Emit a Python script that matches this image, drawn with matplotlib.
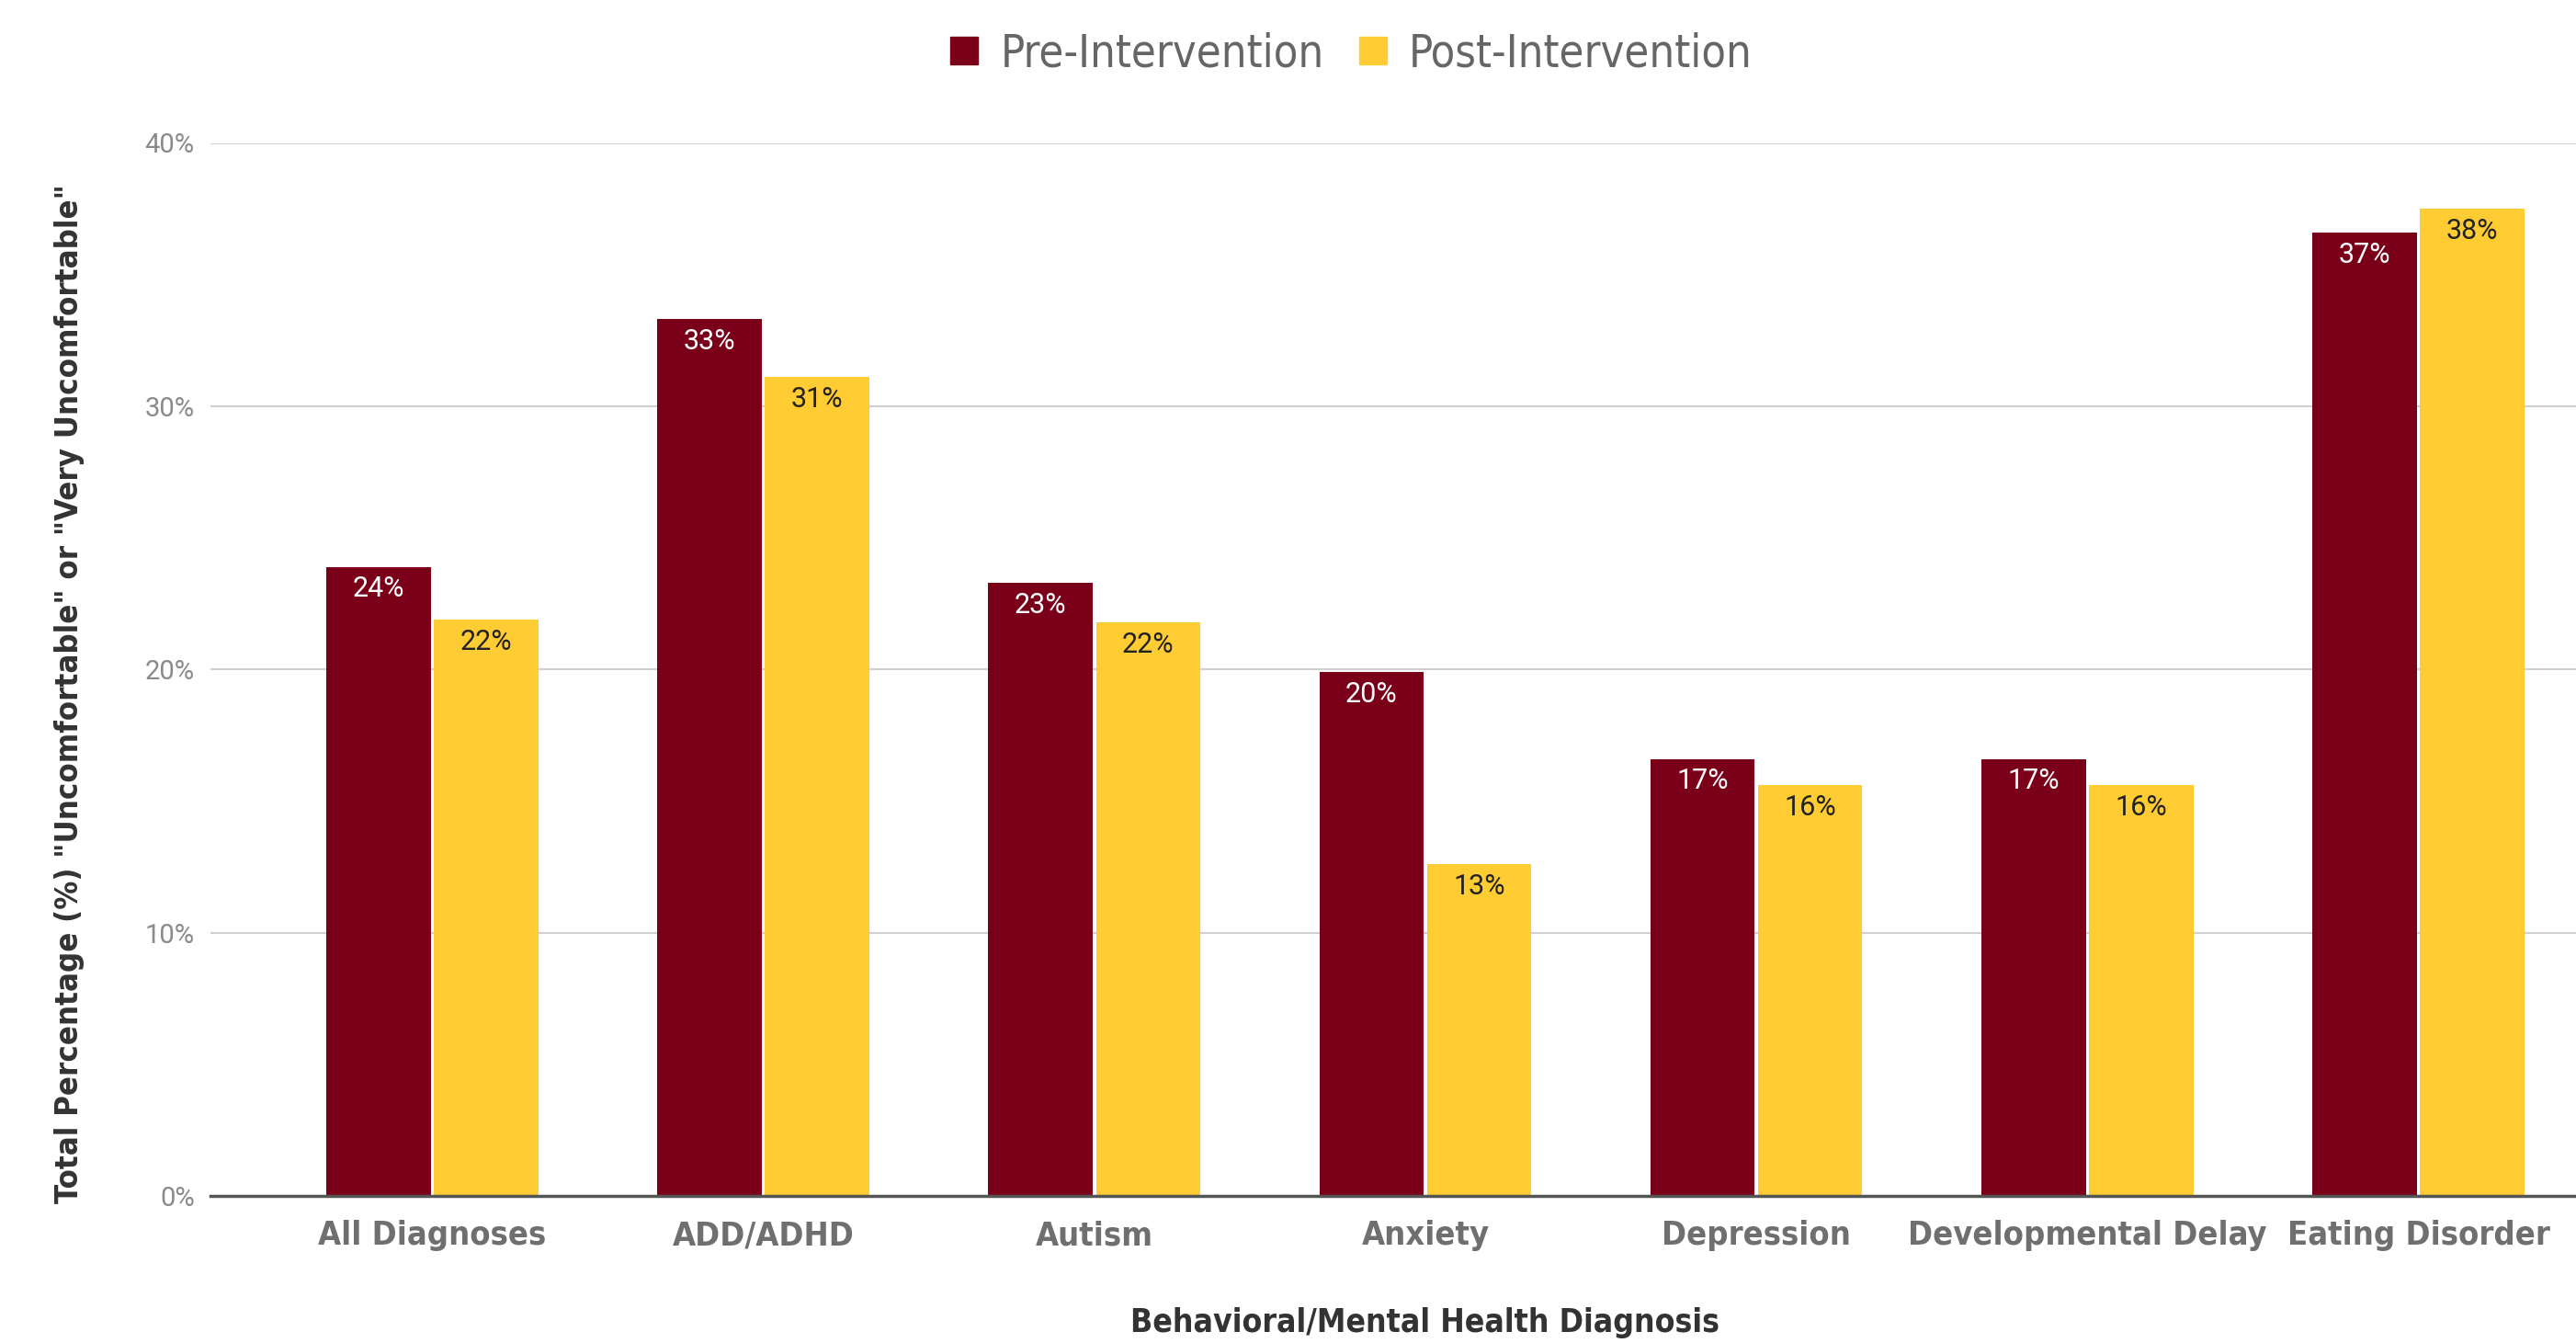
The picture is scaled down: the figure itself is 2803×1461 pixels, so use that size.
import matplotlib
matplotlib.use("Agg")
import matplotlib.pyplot as plt
import numpy as np
from matplotlib.lines import Line2D

# data
categories = ["All Diagnoses", "ADD/ADHD", "Autism", "Anxiety",
              "Depression", "Developmental Delay", "Eating Disorder"]
pre_values = [23.9, 33.3, 23.3, 19.9, 16.6, 16.6, 36.6]
post_values = [21.9, 31.1, 21.8, 12.6, 15.6, 15.6, 37.5]
y_ticks = [0, 10, 20, 30, 40]

MAROON = "#7A0019"
GOLD = "#FFCC33"
REG = ["Roboto", "DejaVu Sans"]

fig = plt.figure(figsize=(28.03, 14.61), dpi=100)
ax = fig.add_axes([229 / 2803, 1 - 1301 / 1461, 1 - 229 / 2803, (1301 - 155.5) / 1461])

x = np.arange(len(categories))
w = 0.315
off = 0.1625
bars_pre = ax.bar(x - off, pre_values, w, color=MAROON, zorder=3)
bars_post = ax.bar(x + off, post_values, w, color=GOLD, zorder=3)

for bars, vals, col in [(bars_pre, pre_values, "white"), (bars_post, post_values, "#222222")]:
    for b, v in zip(bars, vals):
        ax.annotate(f"{v:.0f}%", (b.get_x() + b.get_width() / 2, v),
                    xytext=(0, -17.5), textcoords="offset points",
                    ha="center", va="center", fontsize=22, color=col,
                    family=REG, zorder=4)

ax.set_xlim(-0.67, 6.476)
ax.set_ylim(0, 40)
ax.set_yticks(y_ticks)
ax.set_yticklabels([f"{t}%" for t in y_ticks], family=REG, fontsize=21, color="#8a8a8a")
ax.set_xticks(x)
ax.set_xticklabels(categories, family="DejaVu Sans", fontstretch="condensed",
                   fontweight="bold", fontsize=26, color="#6f6f6f")
ax.tick_params(axis="both", length=0)
ax.tick_params(axis="y", pad=12.5)
ax.tick_params(axis="x", pad=19)

ax.grid(axis="y", color="#d0d0d0", linewidth=1.5, zorder=0)
for s in ["top", "right", "left"]:
    ax.spines[s].set_visible(False)
ax.spines["bottom"].set_color("#555555")
ax.spines["bottom"].set_linewidth(2.5)
ax.spines["bottom"].set_zorder(5)

fig.text(1550 / 2803, 1 - 1439 / 1461, "Behavioral/Mental Health Diagnosis",
         ha="center", va="center", family="DejaVu Sans", fontstretch="condensed",
         fontweight="bold", fontsize=25.5, color="#333333")
fig.text(76 / 2803, 1 - 755 / 1461,
         'Total Percentage (%) "Uncomfortable" or "Very Uncomfortable"',
         ha="center", va="center", rotation=90, family="DejaVu Sans",
         fontstretch="condensed", fontweight="bold", fontsize=24.8, color="#333333")

handles = [Line2D([], [], marker="s", linestyle="none", markersize=22, color=MAROON),
           Line2D([], [], marker="s", linestyle="none", markersize=22, color=GOLD)]
fig.legend(handles, ["Pre-Intervention", "Post-Intervention"], loc="center",
           bbox_to_anchor=(0.523, 0.96), ncol=2, frameon=False,
           prop={"family": "DejaVu Sans", "stretch": "condensed", "size": 35},
           labelcolor="#666666",
           handletextpad=0.3, columnspacing=0.6, handlelength=1.0)

fig.savefig("out.png", dpi=100)
